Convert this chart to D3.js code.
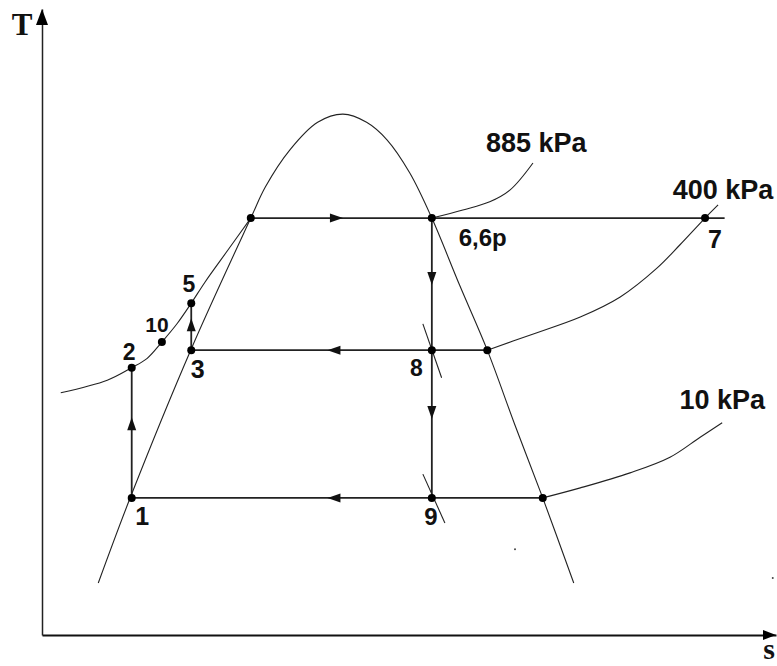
<!DOCTYPE html>
<html>
<head>
<meta charset="utf-8">
<script src="https://cdn.jsdelivr.net/npm/d3@7"></script>
<style>
	body { margin: 0; background: #fff; }
	.lbl { font-family: "Liberation Sans", Arial, sans-serif; font-weight: bold; fill: #111; }
	.axlbl { font-family: "Liberation Serif", "Times New Roman", serif; font-weight: bold; fill: #111; }
</style>
</head>
<body>
<div id="chart"></div>
<script>
// T-s diagram, values (s and T in arbitrary units)
var dome = [[0.69, 8.3], [1.09, 22.2], [1.83, 45.7], [2.56, 66.6], [2.74, 71.6], [3.04, 77.5], [3.38, 81.9],
	[3.69, 83.2], [3.98, 81.9], [4.23, 79.1], [4.51, 73.8], [4.78, 66.6], [5.12, 55.9], [5.46, 45.5],
	[5.80, 33.5], [6.14, 21.9], [6.52, 8.3]];
var iso885Liquid = [[0.23, 38.7], [0.80, 40.7], [1.10, 42.7], [1.29, 44.2], [1.47, 46.8], [1.66, 49.8],
	[1.83, 53.0], [2.00, 56.4], [2.28, 61.5], [2.56, 66.6]];
var iso885Vapor = [[4.78, 66.6], [5.16, 67.9], [5.49, 69.2], [5.74, 71.1], [6.02, 75.4]];
var iso400 = [[5.46, 45.5], [5.98, 47.9], [6.60, 50.8], [7.09, 54.0], [7.54, 58.6], [7.82, 62.3], [8.13, 66.6], [8.29, 68.7]];
var iso10 = [[6.14, 21.9], [6.60, 23.5], [7.21, 25.9], [7.70, 28.4], [8.07, 31.6], [8.34, 33.9]];

// cycle segments [s1, T1, s2, T2]
var segments = [[1.10, 21.9, 1.10, 42.7], [1.83, 45.5, 1.83, 53.0], [2.56, 66.6, 8.37, 66.6],
	[4.78, 66.6, 4.78, 45.5], [4.78, 45.5, 4.78, 21.9], [1.83, 45.5, 5.46, 45.5], [1.10, 21.9, 6.14, 21.9]];
// short slanted marks at 8 and 9
var marks = [[4.67, 49.7, 4.90, 41.1], [4.67, 25.7, 4.94, 17.9]];

// arrow tips: s, T, direction
var arrows = [[3.69, 66.6, "right"], [4.78, 55.9, "down"], [4.78, 34.5, "down"], [3.50, 45.5, "left"],
	[3.50, 21.9, "left"], [1.10, 34.8, "up"], [1.83, 50.6, "up"]];

var points = [[1.10, 21.9], [1.10, 42.7], [1.47, 46.8], [1.83, 53.0], [1.83, 45.5], [2.56, 66.6], [4.78, 66.6],
	[8.13, 66.6], [4.78, 45.5], [5.46, 45.5], [4.78, 21.9], [6.14, 21.9]];
var specks = [[5.80, 13.7], [8.96, 9.1]];

// labels: text, s, T (baseline), anchor, size
var labels = [["1", 1.23, 17.6, "middle", 25], ["2", 1.07, 43.9, "middle", 23], ["10", 1.41, 48.4, "middle", 21],
	["5", 1.80, 54.8, "middle", 23], ["3", 1.91, 41.1, "middle", 25], ["6,6p", 5.11, 62.1, "start", 24],
	["7", 8.25, 61.8, "middle", 25], ["8", 4.59, 41.4, "middle", 23], ["9", 4.77, 17.6, "middle", 24],
	["885 kPa", 6.06, 77.1, "middle", 27], ["400 kPa", 8.35, 69.6, "middle", 27], ["10 kPa", 8.34, 36.1, "middle", 27]];

var width = 777, height = 666;
var svg = d3.select("#chart").append("svg")
	.attr("width", width)
	.attr("height", height);

var sScale = d3.scaleLinear().domain([0, 9]).range([42, 776]);
var tScale = d3.scaleLinear().domain([0, 100]).range([635, 9]);

var line = d3.line()
	.x(function(d){ return sScale(d[0]); })
	.y(function(d){ return tScale(d[1]); })
	.curve(d3.curveCatmullRom.alpha(0.5));

// axes (no ticks, arrow heads at the ends)
svg.append("g")
	.attr("transform", "translate(0," + tScale(0) + ")")
	.call(d3.axisBottom(sScale).tickValues([]).tickSizeOuter(0))
	.select(".domain").attr("stroke", "#111").attr("stroke-width", 2);
svg.append("g")
	.attr("transform", "translate(" + sScale(0) + ",0)")
	.call(d3.axisLeft(tScale).tickValues([]).tickSizeOuter(0))
	.select(".domain").attr("stroke", "#222").attr("stroke-width", 1.5);

var xTip = sScale(9), yTip = tScale(100);
svg.append("path")
	.attr("d", "M" + xTip + "," + tScale(0) + "L" + (xTip - 13) + "," + (tScale(0) - 5) + "L" + (xTip - 13) + "," + (tScale(0) + 5) + "Z")
	.attr("fill", "#000");
svg.append("path")
	.attr("d", "M" + sScale(0) + "," + yTip + "L" + (sScale(0) - 6) + "," + (yTip + 16) + "L" + (sScale(0) + 6) + "," + (yTip + 16) + "Z")
	.attr("fill", "#000");

svg.append("text").attr("class", "axlbl")
	.attr("x", 22).attr("y", 35)
	.attr("text-anchor", "middle")
	.style("font-size", "31px")
	.text("T");
svg.append("text").attr("class", "axlbl")
	.attr("x", 769).attr("y", 659)
	.attr("text-anchor", "middle")
	.style("font-size", "30px")
	.text("s");

// dome and isobars
[dome, iso885Liquid, iso885Vapor, iso400, iso10].forEach(function(c){
	svg.append("path")
		.datum(c)
		.attr("d", line)
		.attr("fill", "none")
		.attr("stroke", "#222")
		.attr("stroke-width", 1.1);
});

svg.selectAll(".mark")
	.data(marks).enter()
	.append("line")
		.attr("class", "mark")
		.attr("x1", function(d){ return sScale(d[0]); })
		.attr("y1", function(d){ return tScale(d[1]); })
		.attr("x2", function(d){ return sScale(d[2]); })
		.attr("y2", function(d){ return tScale(d[3]); })
		.attr("stroke", "#222")
		.attr("stroke-width", 1.1);

// cycle
svg.selectAll(".seg")
	.data(segments).enter()
	.append("line")
		.attr("class", "seg")
		.attr("x1", function(d){ return sScale(d[0]); })
		.attr("y1", function(d){ return tScale(d[1]); })
		.attr("x2", function(d){ return sScale(d[2]); })
		.attr("y2", function(d){ return tScale(d[3]); })
		.attr("stroke", "#222")
		.attr("stroke-width", 1.8);

svg.selectAll(".arrow")
	.data(arrows).enter()
	.append("path")
		.attr("class", "arrow")
		.attr("d", function(d){
			var x = sScale(d[0]), y = tScale(d[1]);
			var len = 13, hw = 4.5;
			if (d[2] == "right") return "M" + x + "," + y + "L" + (x - len) + "," + (y - hw) + "L" + (x - len) + "," + (y + hw) + "Z";
			if (d[2] == "left") return "M" + x + "," + y + "L" + (x + len) + "," + (y - hw) + "L" + (x + len) + "," + (y + hw) + "Z";
			if (d[2] == "down") return "M" + x + "," + y + "L" + (x - hw) + "," + (y - len) + "L" + (x + hw) + "," + (y - len) + "Z";
			return "M" + x + "," + y + "L" + (x - hw) + "," + (y + len) + "L" + (x + hw) + "," + (y + len) + "Z";
		})
		.attr("fill", "#111");

svg.selectAll(".pt")
	.data(points).enter()
	.append("circle")
		.attr("class", "pt")
		.attr("cx", function(d){ return sScale(d[0]); })
		.attr("cy", function(d){ return tScale(d[1]); })
		.attr("r", 4)
		.attr("fill", "#000");

svg.selectAll(".speck")
	.data(specks).enter()
	.append("circle")
		.attr("class", "speck")
		.attr("cx", function(d){ return sScale(d[0]); })
		.attr("cy", function(d){ return tScale(d[1]); })
		.attr("r", 1)
		.attr("fill", "#444");

svg.selectAll(".lbl")
	.data(labels).enter()
	.append("text")
		.attr("class", "lbl")
		.attr("x", function(d){ return sScale(d[1]); })
		.attr("y", function(d){ return tScale(d[2]); })
		.attr("text-anchor", function(d){ return d[3]; })
		.style("font-size", function(d){ return d[4] + "px"; })
		.text(function(d){ return d[0]; });
</script>
</body>
</html>
